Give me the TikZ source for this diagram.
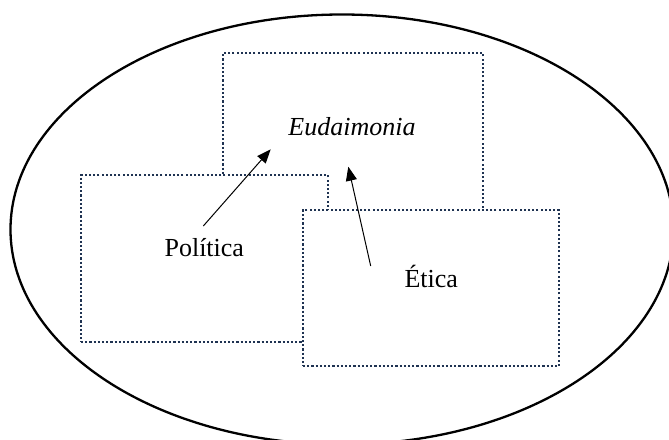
\documentclass[tikz,border=0pt]{standalone}
\usepackage{fontspec}
\setmainfont{Liberation Serif}
\usetikzlibrary{arrows.meta}
\definecolor{dotblue}{HTML}{1F3352}
\begin{document}
\begin{tikzpicture}[x=1pt,y=-1pt,
  dotbox/.style={draw=dotblue,fill=white,line width=2.2pt,dash pattern=on 2.1pt off 2.1pt,inner sep=0pt},
  lbl/.style={anchor=base,inner sep=0pt,font=\fontsize{26}{30}\selectfont},
  arr/.style={line width=1pt,-{Triangle[length=14pt,width=11pt]}}]
\useasboundingbox (0,0) rectangle (669,439);
\draw[line width=2.3pt] (342,229.5) ellipse [x radius=331.5pt, y radius=215pt];
\node[dotbox,minimum width=260pt,minimum height=197pt] (top) at (353,151.5) {};
\node[dotbox,minimum width=247pt,minimum height=167pt] (left) at (204.5,258.5) {};
\node[dotbox,minimum width=256pt,minimum height=156pt] (right) at (431,288) {};
\node[lbl,font=\fontsize{26}{30}\selectfont\itshape] (eud) at (352,135) {Eudaimonia};
\node[lbl] (pol) at (204.3,256.7) {Política};
\node[lbl] (eti) at (431.3,287.3) {Ética};
\coordinate (p1) at (203.3,226);
\coordinate (p2) at (270.7,149.3);
\coordinate (e1) at (370.7,266);
\coordinate (e2) at (348.3,166.7);
\draw[arr] (p1) -- (p2);
\draw[arr] (e1) -- (e2);
\end{tikzpicture}
\end{document}
